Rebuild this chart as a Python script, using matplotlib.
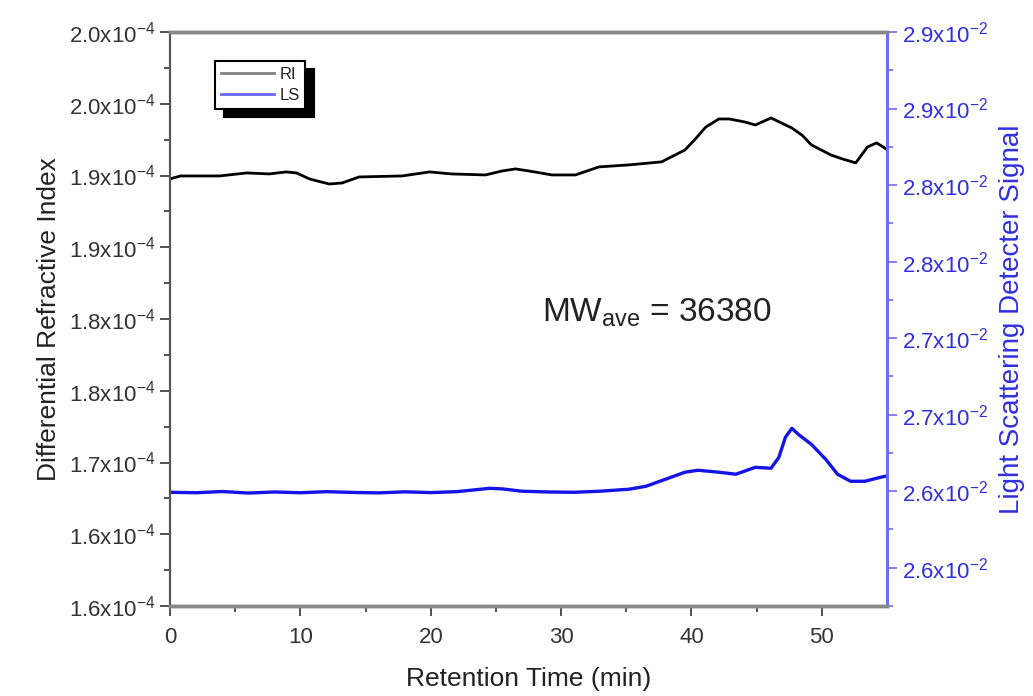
import numpy as np
import matplotlib
matplotlib.use("Agg")
import matplotlib.pyplot as plt
from matplotlib.lines import Line2D

plt.rcParams['font.family'] = ['Liberation Sans', 'DejaVu Sans']
plt.rcParams['mathtext.fontset'] = 'custom'
plt.rcParams['mathtext.rm'] = 'Liberation Sans'
plt.rcParams['mathtext.it'] = 'Liberation Sans'

# RI trace (x1e-4) vs retention time (min)
t_ri = [0, 0.8, 3.8, 5.9, 7.6, 8.9, 9.7, 10.7, 12.2, 13.2, 14.5, 17.8, 19.9, 21.6,
        24.2, 25.5, 26.5, 27.5, 29.3, 31.1, 32.9, 35.2, 37.7, 39.5, 40.3, 41.1, 42.1,
        42.9, 44.1, 44.9, 46.1, 47.7, 48.5, 49.2, 50.7, 51.6, 52.6, 53.5, 54.2, 54.7, 55.0]
ri = [1.8976, 1.8997, 1.8997, 1.9018, 1.9011, 1.9025, 1.9018, 1.8976, 1.8941, 1.8948,
      1.8990, 1.8997, 1.9025, 1.9011, 1.9004, 1.9032, 1.9046, 1.9032, 1.9004, 1.9004,
      1.9060, 1.9074, 1.9095, 1.9178, 1.9255, 1.9338, 1.9394, 1.9394, 1.9373, 1.9352,
      1.9401, 1.9331, 1.9280, 1.9213, 1.9143, 1.9115, 1.9088, 1.9199, 1.9227, 1.9199, 1.9180]

# LS trace (x1e-2)
t_ls = [0, 2, 4, 6, 8, 10, 12, 14, 16, 18, 20, 22, 23.5, 24.5, 25.5, 27, 29, 31, 33, 35.2,
        36.5, 38, 39.5, 40.5, 42.1, 43.4, 44.9, 46.1, 46.7, 47.2, 47.7, 48.2, 49.2, 50.3,
        51.2, 52.2, 53.3, 54.5, 55]
ls = [2.6493, 2.6490, 2.6498, 2.6488, 2.6495, 2.6490, 2.6497, 2.6492, 2.6489, 2.6496,
      2.6491, 2.6497, 2.6510, 2.6519, 2.6515, 2.6500, 2.6495, 2.6493, 2.6500, 2.6513,
      2.6532, 2.6578, 2.6624, 2.6637, 2.6624, 2.6611, 2.6656, 2.6650, 2.6721, 2.6852,
      2.6911, 2.6871, 2.6806, 2.6708, 2.6611, 2.6565, 2.6565, 2.6591, 2.6600]

left_ticks = [1.60, 1.65, 1.70, 1.75, 1.80, 1.85, 1.90, 1.95, 2.00]
left_labels = ['1.6', '1.6', '1.7', '1.8', '1.8', '1.9', '1.9', '2.0', '2.0']
right_ticks = [2.60, 2.65, 2.70, 2.75, 2.80, 2.85, 2.90, 2.95]
right_labels = ['2.6', '2.6', '2.7', '2.7', '2.8', '2.8', '2.9', '2.9']
x_ticks = [0, 10, 20, 30, 40, 50]

blue_axis = '#6b6bff'
blue_text = '#2f2fe0'

fig = plt.figure(figsize=(10.33, 6.96), dpi=100)
ax = fig.add_axes([0.1646, 0.1293, 0.6941, 0.8247])
ax2 = ax.twinx()

ax.plot(t_ri, np.array(ri) * 1e-4, color='black', lw=2.0, zorder=3)
ax2.plot(t_ls, np.array(ls) * 1e-2, color='#1414e6', lw=2.4)

ax.set_xlim(0, 55)
ax.set_ylim(1.6e-4, 2.0e-4)
ax2.set_ylim(2.575e-2, 2.95e-2)

ax.set_xticks(x_ticks)
ax.set_xticks(np.arange(5, 55, 10), minor=True)
ax.set_yticks(np.array(left_ticks) * 1e-4)
ax.set_yticklabels([r'$\mathregular{%sx10^{-4}}$' % s for s in left_labels])
ax.set_yticks((np.array(left_ticks[:-1]) + 0.025) * 1e-4, minor=True)
ax2.set_yticks(np.array(right_ticks) * 1e-2)
ax2.set_yticklabels([r'$\mathregular{%sx10^{-2}}$' % s for s in right_labels])
ax2.set_yticks((np.array(right_ticks) - 0.025) * 1e-2, minor=True)

ax.tick_params(axis='both', which='major', direction='out', length=7, width=1.2,
               labelsize=16, colors='#333333')
ax.tick_params(axis='x', which='major', pad=8)
ax.tick_params(axis='both', which='minor', direction='out', length=4, width=1.2, colors='#333333')
ax2.tick_params(axis='y', which='major', direction='out', length=7, width=1.2,
                labelsize=16, colors=blue_axis, labelcolor=blue_text)
ax2.tick_params(axis='y', which='minor', direction='out', length=4, width=1.2, colors=blue_axis)

for a in (ax, ax2):
    a.spines['top'].set_color('#888888')
    a.spines['top'].set_linewidth(2.5)
    a.spines['bottom'].set_color('#888888')
    a.spines['bottom'].set_linewidth(2.5)
    a.spines['left'].set_color('#555555')
    a.spines['left'].set_linewidth(1.5)
    a.spines['right'].set_color(blue_axis)
    a.spines['right'].set_linewidth(2.0)

ax.set_xlabel('Retention Time (min)', fontsize=19, color='#222222', labelpad=14)
ax.set_ylabel('Differential Refractive Index', fontsize=19, color='#222222', labelpad=6)
ax2.set_ylabel('Light Scattering Detecter Signal', fontsize=20, color=blue_text, labelpad=8)

ax.text(28.5, 1.8042e-4, r'MW$_{\mathregular{ave}}$ = 36380', fontsize=24,
        color='#222222', va='center', ha='left')

handles = [Line2D([], [], color='#808080', lw=2), Line2D([], [], color='#6666ff', lw=2)]
leg = ax2.legend(handles, ['RI', 'LS'], loc='upper left', bbox_to_anchor=(0.063, 0.9495),
                 borderaxespad=0, fontsize=12, handlelength=3.2, handletextpad=0.3,
                 fancybox=False, edgecolor='black', framealpha=1, borderpad=0.35,
                 labelspacing=0.35,
                 shadow={'ox': 6, 'oy': -6, 'facecolor': 'black', 'edgecolor': 'black', 'alpha': 1})
leg.get_frame().set_linewidth(1.5)
for txt in leg.get_texts():
    txt.set_color('#222222')

fig.savefig('out.png', dpi=100)
